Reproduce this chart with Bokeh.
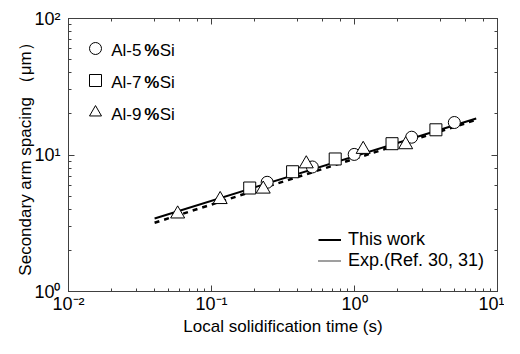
import numpy as np
from bokeh.plotting import figure
from bokeh.models import (LogAxis, LogTicker, Legend, LegendItem, Label,
                          CustomJSTickFormatter, Range1d)
from bokeh.embed import file_html
from bokeh.resources import INLINE

# ---------------- data ----------------
al5_time = [0.245, 0.507, 0.995, 2.51, 4.99]
al5_sas = [6.31, 8.17, 10.1, 13.5, 17.3]
al7_time = [0.185, 0.369, 0.733, 1.83, 3.71]
al7_sas = [5.73, 7.54, 9.35, 12.1, 15.3]
al9_time = [0.058, 0.115, 0.230, 0.46, 1.15, 2.28]
al9_sas = [3.70, 4.72, 5.63, 8.62, 11.0, 11.9]
this_work_time = [0.040, 7.1]
this_work_sas = [3.43, 18.5]
exp_time = [0.040, 7.1]
exp_sas = [3.19, 18.1]

x_tick_values = [0.01, 0.1, 1, 10]
x_tick_labels = ["10⁻²", "10⁻¹", "10⁰", "10¹"]
y_tick_values = [1, 10, 100]
y_tick_labels = ["10⁰", "10¹", "10²"]

alloy_names = ["Al-5", "Al-7", "Al-9"]
alloy_suffix = ["%", "Si"]
line_labels = ["This work", "Exp.(Ref. 30, 31)"]
x_title = "Local solidification time (s)"
y_title = "Secondary arm spacing （μm）"

# ---------------- style / layout ----------------
FONT = "Liberation Sans"
AX = "#404040"
X0, X1 = 0.01, 10
Y0, Y1 = 1, 100
FW, FH = 422, 275          # expected frame size (px)

def fx(px):
    return 10 ** (np.log10(X0) + px / FW * (np.log10(X1) - np.log10(X0)))

def fy(py):
    return 10 ** (np.log10(Y1) - py / FH * (np.log10(Y1) - np.log10(Y0)))

p = figure(width=504, height=338, x_axis_type="log", y_axis_type="log",
           x_range=Range1d(X0, X1), y_range=Range1d(Y0, Y1),
           output_backend="svg", toolbar_location=None,
           min_border_left=68, min_border_right=7,
           min_border_top=18, min_border_bottom=30)
p.grid.visible = False
p.outline_line_color = AX
p.background_fill_color = "white"
p.border_fill_color = "white"

def style_axis(ax):
    ax.axis_line_color = AX
    ax.major_tick_line_color = AX
    ax.minor_tick_line_color = AX
    ax.major_tick_in = 6
    ax.major_tick_out = 0
    ax.minor_tick_in = 3
    ax.minor_tick_out = 0
    ax.major_label_text_font = FONT
    ax.major_label_text_font_size = "18px"
    ax.major_label_text_color = "black"
    ax.axis_label_text_font = FONT
    ax.axis_label_text_font_size = "17px"
    ax.axis_label_text_font_style = "normal"
    ax.axis_label_text_color = "black"

xa, ya = p.xaxis[0], p.yaxis[0]
for ax in (xa, ya):
    style_axis(ax)
xa.major_label_overrides = dict(zip(x_tick_values, x_tick_labels))
ya.major_label_overrides = dict(zip(y_tick_values, y_tick_labels))
xa.axis_label = x_title
ya.axis_label = y_title
xa.major_label_standoff = 2
xa.axis_label_standoff = 0
ya.major_label_standoff = 8
ya.axis_label_standoff = -4

for side in ("above", "right"):
    ax = LogAxis(ticker=LogTicker(), formatter=CustomJSTickFormatter(code="return ''"))
    style_axis(ax)
    ax.major_label_standoff = 0
    p.add_layout(ax, side)

# ---------------- lines ----------------
r_this = p.line(this_work_time, this_work_sas, line_color="black", line_width=2)
p.line(exp_time, exp_sas, line_color="black", line_width=2.5, line_dash="5 5")
r_exp_leg = p.line([np.nan], [np.nan], line_color="black", line_width=1.5, line_dash="1 1")

# ---------------- markers ----------------
r5 = p.scatter(al5_time, al5_sas, marker="circle", size=12,
               fill_color="white", line_color="black", line_width=1)
r7 = p.scatter(al7_time, al7_sas, marker="square", size=12,
               fill_color="white", line_color="black", line_width=1)
r9 = p.scatter(al9_time, al9_sas, marker="triangle", size=14,
               fill_color="white", line_color="black", line_width=1)

# ---------------- legends ----------------
leg_markers = Legend(items=[LegendItem(label="", renderers=[r]) for r in (r5, r7, r9)],
                     location=(12, FH - 17 - 94), orientation="vertical",
                     glyph_width=30, glyph_height=30, spacing=2, padding=0, margin=0,
                     label_width=0, label_height=30, label_standoff=0,
                     border_line_alpha=0, background_fill_alpha=0)
p.add_layout(leg_markers, "center")

row_y = [32, 64, 97]
for name, ry in zip(alloy_names, row_y):
    kw = dict(x=fx(42), y=fy(ry), text_baseline="middle", text_align="left",
              text_font=FONT, text_font_size="17px", text_color="black")
    p.add_layout(Label(text=name, **kw))
    p.add_layout(Label(text=alloy_suffix[0], x_offset=33, text_font_style="bold", **kw))
    p.add_layout(Label(text=alloy_suffix[1], x_offset=48.5, **kw))

leg_lines = Legend(items=[LegendItem(label=line_labels[0], renderers=[r_this]),
                          LegendItem(label=line_labels[1], renderers=[r_exp_leg])],
                   location=(250, 20), orientation="vertical",
                   glyph_width=23, glyph_height=19, label_height=19, spacing=0,
                   padding=0, margin=0, label_standoff=7,
                   label_text_font=FONT, label_text_font_size="18px",
                   label_text_color="black",
                   border_line_alpha=0, background_fill_alpha=0)
p.add_layout(leg_lines, "center")

open("out.html", "w").write(file_html(p, INLINE))
